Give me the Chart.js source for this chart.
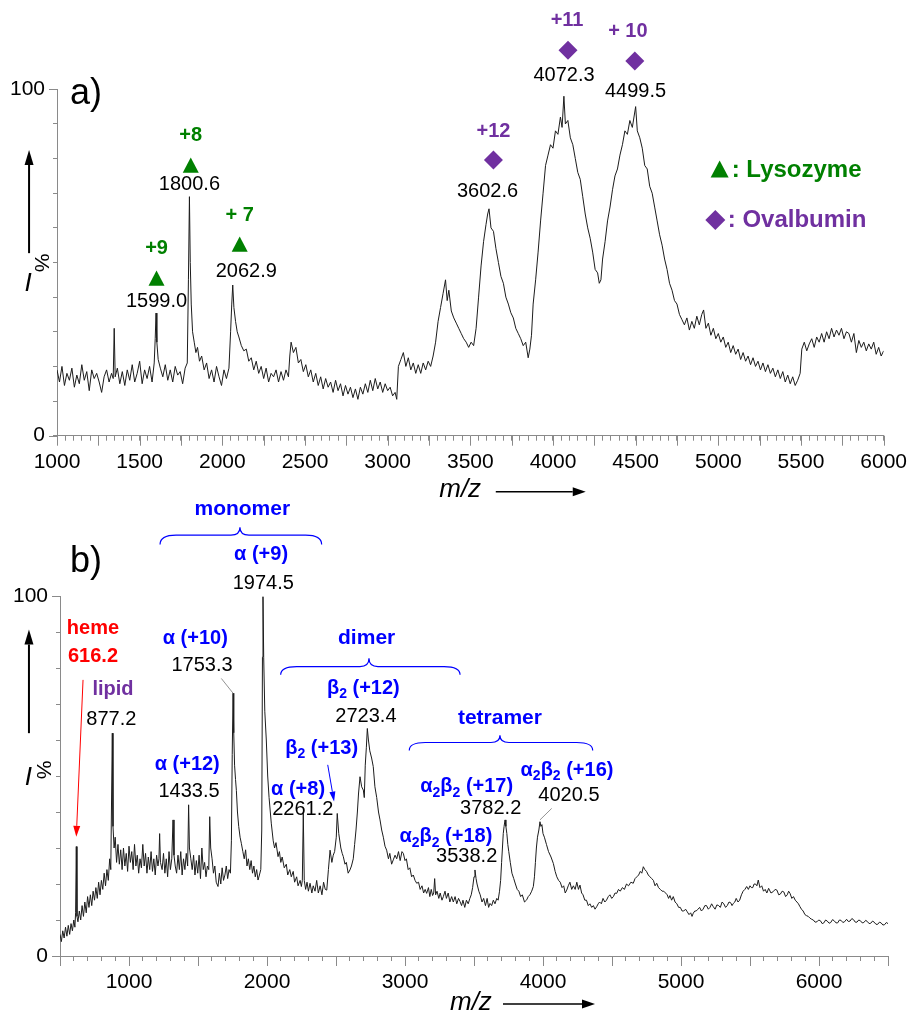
<!DOCTYPE html>
<html>
<head>
<meta charset="utf-8">
<script src="https://cdn.jsdelivr.net/npm/chart.js@4.4.1/dist/chart.umd.min.js"></script>
<style>
  html, body { margin: 0; padding: 0; background: #fff; }
  #wrap { position: relative; width: 916px; height: 1023px; }
  #wrap canvas { position: absolute; left: 0; top: 0; }
</style>
</head>
<body>
<div id="wrap">
  <canvas id="chartA" width="916" height="1023"></canvas>
  <canvas id="chartB" width="916" height="1023"></canvas>
</div>
<script>
// ---- panel a) lysozyme + ovalbumin spectrum ----
const mzA = [
  1000,1015,1030,1045,1060,1075,1090,1105,1120,1135,
  1150,1165,1180,1195,1210,1225,1240,1255,1270,1285,
  1300,1315,1330,1340,1346,1352,1365,1380,1395,1410,
  1425,1440,1455,1470,1485,1500,1515,1530,1545,1560,
  1575,1588,1594,1599,1604,1612,1625,1640,1655,1670,
  1685,1700,1715,1730,1745,1760,1775,1788,1795,1801,
  1806,1812,1820,1830,1840,1850,1862,1875,1890,1905,
  1920,1935,1950,1965,1980,1995,2010,2025,2040,2050,
  2057,2063,2070,2080,2090,2100,2115,2130,2145,2160,
  2175,2190,2205,2220,2235,2250,2265,2280,2295,2310,
  2325,2340,2355,2370,2385,2400,2408,2416,2430,2445,
  2460,2475,2490,2505,2520,2535,2550,2565,2580,2595,
  2610,2625,2640,2655,2670,2685,2700,2715,2730,2745,
  2760,2775,2790,2805,2820,2835,2850,2865,2880,2895,
  2910,2925,2940,2955,2970,2985,3000,3015,3030,3045,
  3055,3065,3080,3095,3110,3125,3140,3155,3170,3185,
  3200,3215,3230,3245,3260,3275,3290,3305,3320,3335,
  3350,3360,3370,3385,3400,3415,3430,3445,3460,3475,
  3490,3505,3520,3535,3550,3565,3580,3595,3605,3613,
  3625,3640,3655,3670,3685,3700,3715,3730,3745,3760,
  3775,3790,3805,3820,3835,3850,3860,3870,3880,3895,
  3910,3925,3940,3955,3970,3985,4000,4015,4030,4045,
  4055,4066,4075,4090,4105,4120,4135,4150,4165,4180,
  4195,4210,4225,4240,4255,4270,4280,4290,4300,4315,
  4330,4345,4360,4375,4390,4405,4420,4435,4450,4465,
  4480,4490,4500,4510,4525,4540,4555,4570,4585,4600,
  4615,4630,4645,4660,4675,4690,4705,4720,4735,4750,
  4765,4780,4795,4810,4825,4840,4855,4870,4885,4900,
  4911,4925,4940,4955,4970,4985,5000,5015,5030,5045,
  5060,5075,5090,5105,5120,5135,5150,5165,5180,5195,
  5210,5225,5240,5255,5270,5285,5300,5315,5330,5345,
  5360,5375,5390,5405,5420,5435,5450,5465,5480,5495,
  5505,5520,5535,5550,5565,5580,5595,5610,5625,5640,
  5655,5670,5685,5700,5715,5730,5745,5760,5775,5790,
  5805,5820,5835,5850,5865,5880,5895,5910,5925,5940,
  5955,5970,5985,6000
];
const intensityA = [
  19,15.5,20,14.5,18,16,19.5,14,17.5,15,
  20.5,16,18.5,13,19,16.5,18,15.5,12.5,17,
  19,15.5,18,16.5,31,17,19.5,15,18.5,14.5,
  19,16,20.5,15.5,18,21.5,15,19,16.5,20,
  15.5,21,28,35.4,27,22,19.5,17,20.5,16,
  19,15.5,20,17.5,18.5,15,19.5,21,45,69,
  50,38,30,27,24,25.5,21.5,23,19,21,
  16.5,19,15.5,20,17,14.5,19,16.5,19.5,30,
  38,43.5,37,33,30,28.5,26,24.5,25,21.5,
  22.5,19,21.5,18,20,16.5,19.5,15.5,18,17,
  19,15.5,18.5,16,19,17,23,27,24,25.5,
  21,22,18.5,20.5,17,19,15.5,18,14.5,17,
  13.5,16.5,14,15.5,12.5,16,13,15,11.5,14.5,
  12,14,11,13.5,10.5,14,12,15,12.5,16,
  13,16.5,13.5,15.5,12.5,15,13,14,11.5,12.5,
  10.5,20,22,24,20,22.5,19,21,18,20.5,
  18,21,19,21.5,20,23,27,33,37,41,
  45,39,42,36,34,32.5,31,29.5,28,27,
  25.5,27,26,31,40,49,56,61,64,65.5,
  60,59,54,50,46,44,40,38,35.5,34,
  31,29.5,28,26,27,22.5,25,29,38,45,
  53,62,70,78,81,84,83,88,87,92,
  89,98,90,91,86,84,80,76,74,69,
  64,60,57,53,48,47,44,45,51,56,
  62,66,71,75,77,81,84,88,87,91,
  89,92,95,88,86,83,78,77,72,70,
  66,62,58,55,51,48,44,42,39,38,
  35,33.5,32,34,30.5,33,31,34.5,32,35,
  36.3,31,32.5,29,31,28,29.5,27,28.5,25.5,
  27,24,26,23.5,25,22,24,21.5,23,20.5,
  22.5,20,21.5,19,21,18.5,20.5,18,19.5,17,
  19,16.5,18.5,15.5,17.5,15,17,14.5,16,18,
  25,27,24.5,26.5,28,25.5,28.5,27,29.5,27,
  30,28,31,28.5,30.5,29,31,28,30,29.5,
  27,29.5,24,27.5,25.5,27,24.5,26.5,25,27,
  23.5,25.5,23,24.5
];
const tickLabelsA = [1000, 1500, 2000, 2500, 3000, 3500, 4000, 4500, 5000, 5500, 6000];
const majorTicksA = [1000, 1250, 1500, 1750, 2000, 2250, 2500, 2750, 3000, 3250, 3500, 3750,
  4000, 4250, 4500, 4750, 5000, 5250, 5500, 5750, 6000];

// ---- panel b) hemoglobin spectrum ----
const mzB = [
  500,510,520,530,540,550,560,570,580,590,
  600,608,613,618,623,630,640,650,660,670,
  680,690,700,710,720,730,740,750,760,770,
  780,790,800,810,820,830,840,850,860,868,
  874,879,884,892,900,910,920,930,940,950,
  960,970,980,990,1000,1010,1020,1030,1040,1050,
  1060,1070,1080,1090,1100,1110,1120,1130,1140,1150,
  1160,1170,1180,1190,1200,1210,1217,1222,1228,1240,
  1250,1260,1270,1280,1290,1300,1310,1319,1326,1335,
  1345,1355,1365,1375,1385,1395,1405,1415,1425,1432,
  1438,1448,1458,1468,1478,1488,1498,1508,1518,1528,
  1538,1548,1558,1568,1578,1585,1592,1602,1612,1622,
  1632,1645,1655,1665,1675,1685,1695,1705,1715,1725,
  1735,1742,1748,1754,1759,1765,1772,1778,1786,1795,
  1805,1814,1825,1835,1845,1855,1865,1875,1885,1895,
  1905,1915,1925,1935,1945,1955,1962,1967,1971,1976,
  1984,1995,2005,2015,2031,2045,2055,2065,2080,2090,
  2100,2110,2125,2140,2150,2165,2176,2190,2200,2215,
  2225,2240,2249,2256,2263,2270,2280,2290,2300,2312,
  2325,2335,2348,2360,2372,2385,2398,2410,2422,2433,
  2445,2457,2470,2480,2490,2502,2509,2520,2535,2545,
  2553,2565,2575,2588,2601,2612,2625,2635,2645,2655,
  2663,2674,2686,2698,2705,2712,2720,2727,2735,2745,
  2758,2770,2782,2795,2808,2819,2831,2843,2855,2867,
  2880,2890,2903,2915,2928,2940,2953,2965,2978,2988,
  3000,3010,3023,3035,3048,3060,3073,3085,3098,3110,
  3123,3135,3146,3157,3170,3180,3190,3200,3208,3215,
  3222,3232,3245,3255,3268,3278,3290,3300,3313,3325,
  3338,3350,3363,3375,3388,3399,3410,3420,3433,3445,
  3458,3470,3480,3490,3500,3507,3515,3522,3535,3545,
  3558,3570,3583,3595,3606,3616,3628,3640,3652,3665,
  3675,3685,3693,3700,3706,3712,3718,3725,3731,3738,
  3745,3752,3763,3775,3788,3800,3813,3825,3838,3850,
  3866,3882,3893,3905,3918,3930,3938,3945,3952,3960,
  3970,3978,3985,3992,4000,4010,4025,4040,4058,4075,
  4088,4100,4113,4125,4138,4150,4161,4172,4183,4195,
  4208,4220,4233,4245,4257,4268,4280,4290,4303,4315,
  4328,4340,4353,4365,4377,4389,4400,4410,4423,4435,
  4448,4460,4473,4485,4498,4510,4522,4534,4547,4560,
  4575,4590,4605,4620,4637,4654,4667,4680,4693,4705,
  4716,4727,4738,4750,4763,4775,4788,4800,4812,4824,
  4837,4850,4863,4875,4888,4900,4910,4920,4932,4944,
  4957,4970,4983,4995,5008,5020,5033,5045,5058,5070,
  5080,5089,5100,5110,5123,5135,5148,5160,5173,5185,
  5198,5210,5222,5234,5247,5260,5273,5285,5298,5310,
  5323,5335,5348,5360,5370,5379,5390,5400,5413,5425,
  5438,5450,5463,5476,5488,5500,5510,5520,5530,5540,
  5550,5560,5572,5585,5598,5610,5622,5635,5652,5669,
  5682,5695,5708,5720,5733,5745,5758,5770,5780,5790,
  5803,5815,5828,5840,5851,5862,5873,5885,5898,5910,
  5922,5935,5947,5959,5972,5985,5998,6010,6023,6035,
  6048,6060,6073,6085,6098,6110,6123,6135,6148,6160,
  6173,6185,6200,6212,6225,6238,6250,6263,6275,6288,
  6300,6313,6325,6338,6350,6363,6375,6388,6400,6413,
  6425,6438,6450,6463,6475,6488,6500
];
const intensityB = [
  6,4,7,5,8,5.5,8.5,6,9,7,
  10,8,12,30.4,11,9.5,12.5,10,14,11,
  15,12,16.5,13.5,17,14,18,15.5,19,16,
  20.5,17,21,18.5,23,19.5,24,21,27,24,
  45,61.9,36,30,33,26,31,25.5,29.5,24,
  30,25,28.5,23.5,30.5,26,29,24,31,25,
  28,23,27,24.5,31,25,28.5,23,27.5,24,
  29,23.5,27,22.5,28,25,27,34,26,24,
  28.5,23,27,22,29,24,27,37.8,28,25,
  23,28,24,29,22.5,27,24,28.5,25,42,
  30,27,24,28,22.5,26.5,23,28,21.5,30,
  24,26,22,25,24,38.7,30,27,23,25,
  20.5,19.3,23,20,24.5,21,22.5,25,21.5,24,
  23,32,56,73,62,53,49,46,40,36,
  33,31.3,29,27,29.5,25,27,24,26.5,23,
  25,22,24,21.1,22.5,24,35,83,99.8,83,
  68,60,50,44,36.9,32,30,31.5,27.6,29,
  26,27.5,24.5,25.5,22.5,24,22,23.5,20.5,22,
  19.5,21,19.3,21,39.6,21,18.5,20.5,18,20.2,
  17.5,19.5,18,21,17.5,19.5,17,20.5,18.5,18.3,
  24,29.4,26,28,29,33,39.6,34,30,28.5,
  27.6,25.5,26,23,23.9,25,27,31,35,40,
  45,49.8,47,46.1,44,53,58,63.2,60,57,
  55,52.6,47,44,40,37.8,35,33,30.5,29.4,
  27,28.5,25.5,26.7,28,27,29,26.5,29,28.5,
  26.5,27,24,24.5,22,22.5,21,20.2,20.5,18.5,
  19.5,17.5,18.5,17.4,19,16.5,18.5,16.8,17.5,21.5,
  17,18,16,17.5,15.5,16.5,18,16,17.5,15,
  16.5,15,16.5,14.5,16,15.1,14,15.5,13.5,15.5,
  14.5,16,17,19,22,23.9,21.5,20,18,17,
  15,16,14,16,13.5,14.6,14,15.5,14.5,16,
  15.5,18,21,26,30,34,36,37.8,36,34,
  31,29,26,23,21.5,20,18.5,18,16.5,17,
  15,15.6,16.5,17,18,19.3,22,26,30,33,
  35,37.3,36,36.5,34,33,31,29,27.5,25.7,
  23.5,22,21,20.5,19,19.5,17.5,18.3,19.5,20.5,
  18.5,19.5,18.5,20.5,18.5,19.7,17.5,17,15.5,15.5,
  14,14.5,13.5,14,13,13.7,14.5,15,14.5,16,
  15,15.5,16.5,17,16,16.5,17.5,17.4,18.5,18,
  19,18.5,20,19.5,20.5,20.2,21.5,22,22.5,23.5,
  23,24.8,24,23.5,22.5,22,21.5,21,19.5,20.2,
  19,18.5,18,18,17.5,17,16,16.8,15.5,16.5,
  15,14.5,13.5,13.5,12.5,12.5,13,12.3,11.5,12,
  11,11.9,12.5,12.5,13,13.5,12.5,13,14,14,
  13,13.5,14.5,13.7,13,14.2,14,13.5,15,14.5,
  13.5,14,15,14.8,14,14.6,15,16,15,15.5,
  17,18,18.5,19.3,18.5,19.5,19,19,20,20,
  19.5,21.1,19,19.5,18,18.5,17.5,18.8,17.5,17.9,
  18.5,18.3,17,17.2,18,17.8,16.5,17,18,17.4,
  16,16.5,15.5,15,14.5,13.7,13,12.5,11.5,11.2,
  11,10.5,10.2,10,9.4,9.5,10,9.8,9,9.2,
  10,9.7,9.1,9.3,10.1,9.8,9.2,9.2,10,9.9,
  9.3,9.5,10.2,9.6,9.7,10.4,10.1,9.4,9.4,10,
  9.8,9.2,9.3,9.9,9.6,9,9.1,9.7,9.4,8.8,
  8.8,9.4,9.2,8.6,8.7,9.3,9
];
const tickLabelsB = [1000, 2000, 3000, 4000, 5000, 6000];
const majorTicksB = [500, 1000, 1500, 2000, 2500, 3000, 3500, 4000, 4500, 5000, 5500, 6000, 6500];

const yTickLabels = [0, 100];

const FONT = "'Liberation Sans', Arial, Helvetica, sans-serif";
const AXIS_GREY = '#8a8a8a';
const GREEN = '#008000';
const PURPLE = '#7030a0';
const BLUE = '#0000ff';
const RED = '#ff0000';

// annotations, placed in data units (m/z, %)
const notesA = [
  { type: 'text', m: 1078, v: 95.8, text: 'a)', size: 36, align: 'left', baseline: 'alphabetic' },
  { type: 'text', m: 1602, v: 54.1, text: '+9', bold: true, color: GREEN },
  { type: 'tri', m: 1602, v: 45.5, size: 16, color: GREEN },
  { type: 'text', m: 1602, v: 38.7, text: '1599.0' },
  { type: 'text', m: 1809, v: 86.8, text: '+8', bold: true, color: GREEN },
  { type: 'tri', m: 1809, v: 78.1, size: 16, color: GREEN },
  { type: 'text', m: 1801, v: 72.4, text: '1800.6' },
  { type: 'text', m: 2105, v: 63.7, text: '+ 7', bold: true, color: GREEN },
  { type: 'tri', m: 2105, v: 55.3, size: 16, color: GREEN },
  { type: 'text', m: 2145, v: 47.3, text: '2062.9' },
  { type: 'text', m: 3640, v: 87.8, text: '+12', bold: true, color: PURPLE },
  { type: 'diamond', m: 3640, v: 79.6, size: 19, color: PURPLE },
  { type: 'text', m: 3604, v: 70.4, text: '3602.6' },
  { type: 'text', m: 4085, v: 120, text: '+11', bold: true, color: PURPLE },
  { type: 'diamond', m: 4091, v: 111.3, size: 19, color: PURPLE },
  { type: 'text', m: 4067, v: 104.1, text: '4072.3' },
  { type: 'text', m: 4453, v: 116.8, text: '+ 10', bold: true, color: PURPLE },
  { type: 'diamond', m: 4495, v: 108.2, size: 19, color: PURPLE },
  { type: 'text', m: 4499, v: 99.3, text: '4499.5' },
  { type: 'tri', m: 5008, v: 77, size: 18, color: GREEN },
  { type: 'text', m: 5081, v: 76.6, text: ': Lysozyme', bold: true, size: 24, color: GREEN, align: 'left' },
  { type: 'diamond', m: 4982, v: 62.3, size: 20, color: PURPLE },
  { type: 'text', m: 5057, v: 62.3, text: ': Ovalbumin', bold: true, size: 24, color: PURPLE, align: 'left' },
  { type: 'text', m: 3312, v: -15.7, text: 'm/z', italic: true, size: 26, align: 'left' },
  { type: 'arrow', m1: 3654, v1: -16.2, m2: 4198, v2: -16.2, width: 1.5, head: 13, headW: 9 },
  { type: 'arrow', m1: 831, v1: 52.7, m2: 831, v2: 82.5, width: 2, head: 15, headW: 9 },
  { type: 'text', m: 825, v: 44, text: 'I', italic: true, size: 26 },
  { type: 'text', m: 903, v: 49.9, text: '%', size: 21, rotate: Math.PI / 2 }
];

const notesB = [
  { type: 'text', m: 572, v: 106.7, text: 'b)', size: 36, align: 'left', baseline: 'alphabetic' },
  { type: 'text', m: 1821, v: 124.1, text: 'monomer', bold: true, size: 21, color: BLUE },
  { type: 'brace', m1: 1225, m2: 2396, mc: 1804, vLine: 116.9, vEnd: 114.3, vCusp: 119.1, color: BLUE },
  { type: 'text', m: 1957, v: 111.5, text: 'α (+9)', bold: true, color: BLUE },
  { type: 'text', m: 1973, v: 103.5, text: '1974.5' },
  { type: 'text', m: 739, v: 91, text: 'heme', bold: true, color: RED },
  { type: 'text', m: 739, v: 83.1, text: '616.2', bold: true, color: RED },
  { type: 'arrow', m1: 667, v1: 76.7, m2: 618, v2: 33.1, color: RED, width: 1, head: 11, headW: 7 },
  { type: 'text', m: 884, v: 73.9, text: 'lipid', bold: true, color: PURPLE },
  { type: 'text', m: 872, v: 65.6, text: '877.2' },
  { type: 'text', m: 1480, v: 88.3, text: 'α (+10)', bold: true, color: BLUE },
  { type: 'text', m: 1529, v: 80.8, text: '1753.3' },
  { type: 'arrow', m1: 1669, v1: 77.1, m2: 1754, v2: 73, color: '#777', width: 0.8, head: 0 },
  { type: 'text', m: 1422, v: 53.1, text: 'α (+12)', bold: true, color: BLUE },
  { type: 'text', m: 1435, v: 45.6, text: '1433.5' },
  { type: 'text', m: 2722, v: 88.3, text: 'dimer', bold: true, size: 21, color: BLUE },
  { type: 'brace', m1: 2099, m2: 3399, mc: 2739, vLine: 80.4, vEnd: 78.1, vCusp: 82.7, color: BLUE },
  { type: 'text', m: 2698, v: 74.4, text: 'β_2 (+12)', bold: true, color: BLUE },
  { type: 'text', m: 2717, v: 66.5, text: '2723.4' },
  { type: 'text', m: 2396, v: 57.7, text: 'β_2 (+13)', bold: true, color: BLUE },
  { type: 'arrow', m1: 2440, v1: 53.1, m2: 2486, v2: 42.9, color: BLUE, width: 1, head: 10, headW: 6 },
  { type: 'text', m: 2225, v: 46.3, text: 'α (+8)', bold: true, color: BLUE },
  { type: 'text', m: 2259, v: 40.6, text: '2261.2' },
  { type: 'text', m: 3688, v: 66.1, text: 'tetramer', bold: true, size: 21, color: BLUE },
  { type: 'brace', m1: 3031, m2: 4360, mc: 3688, vLine: 59.3, vEnd: 57.1, vCusp: 61.3, color: BLUE },
  { type: 'text', m: 3447, v: 47, text: 'α_2β_2 (+17)', bold: true, color: BLUE },
  { type: 'text', m: 3621, v: 41, text: '3782.2' },
  { type: 'text', m: 4174, v: 51.5, text: 'α_2β_2 (+16)', bold: true, color: BLUE },
  { type: 'text', m: 4188, v: 44.7, text: '4020.5' },
  { type: 'arrow', m1: 4063, v1: 41, m2: 3978, v2: 37.8, color: '#777', width: 0.8, head: 0 },
  { type: 'text', m: 3296, v: 33.1, text: 'α_2β_2 (+18)', bold: true, color: BLUE },
  { type: 'text', m: 3447, v: 27.6, text: '3538.2' },
  { type: 'text', m: 3326, v: -13.1, text: 'm/z', italic: true, size: 26, align: 'left' },
  { type: 'arrow', m1: 3710, v1: -13.3, m2: 4377, v2: -13.3, width: 1.5, head: 13, headW: 9 },
  { type: 'arrow', m1: 275, v1: 61.9, m2: 275, v2: 90.7, width: 2, head: 15, headW: 9 },
  { type: 'text', m: 270, v: 49.4, text: 'I', italic: true, size: 26 },
  { type: 'text', m: 373, v: 51.7, text: '%', size: 21, rotate: Math.PI / 2 }
];

function drawArrow(ctx, x1, y1, x2, y2, color, width, headLen, headW) {
  const ang = Math.atan2(y2 - y1, x2 - x1);
  const bx = x2 - Math.cos(ang) * headLen;
  const by = y2 - Math.sin(ang) * headLen;
  ctx.strokeStyle = color;
  ctx.lineWidth = width;
  ctx.beginPath();
  ctx.moveTo(x1, y1);
  ctx.lineTo(headLen ? bx : x2, headLen ? by : y2);
  ctx.stroke();
  if (!headLen) return;
  ctx.fillStyle = color;
  ctx.beginPath();
  ctx.moveTo(x2, y2);
  ctx.lineTo(bx + Math.sin(ang) * headW / 2, by - Math.cos(ang) * headW / 2);
  ctx.lineTo(bx - Math.sin(ang) * headW / 2, by + Math.cos(ang) * headW / 2);
  ctx.closePath();
  ctx.fill();
}

// text with "_x" meaning subscript x
function drawRichText(ctx, it, x, y) {
  const size = it.size || 20;
  const style = (it.italic ? 'italic ' : '') + (it.bold ? 'bold ' : '');
  const parts = [];
  const s = it.text;
  for (let i = 0; i < s.length; i++) {
    if (s[i] === '_') {
      parts.push({ t: s[i + 1], sub: true });
      i++;
    } else if (parts.length && !parts[parts.length - 1].sub) {
      parts[parts.length - 1].t += s[i];
    } else {
      parts.push({ t: s[i], sub: false });
    }
  }
  const fontFor = p => style + Math.round(p.sub ? size * 0.68 : size) + 'px ' + FONT;
  let total = 0;
  parts.forEach(p => {
    ctx.font = fontFor(p);
    p.w = ctx.measureText(p.t).width;
    total += p.w;
  });
  let cx = it.align === 'left' ? x : x - total / 2;
  ctx.fillStyle = it.color || '#000';
  ctx.textAlign = 'left';
  ctx.textBaseline = it.baseline || 'middle';
  parts.forEach(p => {
    ctx.font = fontFor(p);
    ctx.fillText(p.t, cx, p.sub ? y + size * 0.3 : y);
    cx += p.w;
  });
}

const notesPlugin = {
  id: 'notes',
  afterDraw(chart, args, opts) {
    const ctx = chart.ctx;
    const xs = chart.scales.x;
    const ys = chart.scales.y;
    const px = m => xs.getPixelForValue(m);
    const py = v => ys.getPixelForValue(v);
    const area = chart.chartArea;
    ctx.save();

    // longer marks for the major ticks
    ctx.strokeStyle = AXIS_GREY;
    ctx.lineWidth = 1;
    ctx.beginPath();
    opts.xMajors.forEach(val => {
      const x = Math.round(px(val)) + 0.5;
      ctx.moveTo(x, area.bottom);
      ctx.lineTo(x, area.bottom + 10);
    });
    yTickLabels.forEach(val => {
      const y = Math.round(py(val)) + 0.5;
      ctx.moveTo(area.left - 8, y);
      ctx.lineTo(area.left, y);
    });
    ctx.stroke();

    opts.items.forEach(it => {
      if (it.type === 'text') {
        if (it.rotate) {
          ctx.save();
          ctx.translate(px(it.m), py(it.v));
          ctx.rotate(it.rotate);
          drawRichText(ctx, it, 0, 0);
          ctx.restore();
        } else {
          drawRichText(ctx, it, px(it.m), py(it.v));
        }
      } else if (it.type === 'tri') {
        const x = px(it.m), y = py(it.v), w = it.size, h = it.size * 0.95;
        ctx.fillStyle = it.color;
        ctx.beginPath();
        ctx.moveTo(x, y - h / 2);
        ctx.lineTo(x + w / 2, y + h / 2);
        ctx.lineTo(x - w / 2, y + h / 2);
        ctx.closePath();
        ctx.fill();
      } else if (it.type === 'diamond') {
        const x = px(it.m), y = py(it.v), r = it.size / 2;
        ctx.fillStyle = it.color;
        ctx.beginPath();
        ctx.moveTo(x, y - r);
        ctx.lineTo(x + r, y);
        ctx.lineTo(x, y + r);
        ctx.lineTo(x - r, y);
        ctx.closePath();
        ctx.fill();
      } else if (it.type === 'arrow') {
        drawArrow(ctx, px(it.m1), py(it.v1), px(it.m2), py(it.v2),
          it.color || '#000', it.width || 1, it.head || 0, it.headW || 0);
      } else if (it.type === 'brace') {
        const x1 = px(it.m1), x2 = px(it.m2), xc = px(it.mc);
        const yl = py(it.vLine), ye = py(it.vEnd), yc = py(it.vCusp);
        const r = 16, rc = 9;
        ctx.strokeStyle = it.color;
        ctx.lineWidth = 1.2;
        ctx.beginPath();
        ctx.moveTo(x1, ye);
        ctx.quadraticCurveTo(x1, yl, x1 + r, yl);
        ctx.lineTo(xc - rc, yl);
        ctx.quadraticCurveTo(xc, yl, xc, yc);
        ctx.quadraticCurveTo(xc, yl, xc + rc, yl);
        ctx.lineTo(x2 - r, yl);
        ctx.quadraticCurveTo(x2, yl, x2, ye);
        ctx.stroke();
      }
    });
    ctx.restore();
  }
};

function spectrumChart(canvasId, mz, intensity, axis, notes) {
  const points = mz.map((m, i) => ({ x: m, y: intensity[i] }));
  return new Chart(document.getElementById(canvasId), {
    type: 'line',
    data: {
      datasets: [{
        data: points,
        borderColor: '#1c1c1c',
        borderWidth: 1,
        pointRadius: 0,
        tension: 0,
        fill: false
      }]
    },
    options: {
      responsive: false,
      animation: false,
      devicePixelRatio: 1,
      events: [],
      layout: { padding: axis.padding },
      plugins: {
        legend: { display: false },
        tooltip: { enabled: false },
        notes: { items: notes, xMajors: axis.majors }
      },
      scales: {
        x: {
          type: 'linear',
          min: axis.min,
          max: axis.max,
          afterFit: s => { s.height = 40; },
          border: { color: AXIS_GREY, width: 1 },
          grid: { drawOnChartArea: false, tickLength: 5, color: AXIS_GREY },
          ticks: {
            stepSize: axis.step,
            autoSkip: false,
            maxRotation: 0,
            padding: 9,
            color: '#000',
            font: { family: FONT, size: 21 },
            callback: v => axis.labels.includes(v) ? String(v) : ''
          }
        },
        y: {
          min: 0,
          max: 100,
          afterFit: s => { s.width = axis.yWidth; },
          border: { color: AXIS_GREY, width: 1 },
          grid: { drawOnChartArea: false, tickLength: 4, color: AXIS_GREY },
          ticks: {
            stepSize: 10,
            autoSkip: false,
            padding: 8,
            color: '#000',
            font: { family: FONT, size: 21 },
            callback: v => yTickLabels.includes(v) ? String(v) : ''
          }
        }
      }
    },
    plugins: [notesPlugin]
  });
}

spectrumChart('chartA', mzA, intensityA, {
  min: 1000, max: 6000, step: 50, labels: tickLabelsA, majors: majorTicksA, yWidth: 57,
  padding: { left: 0, right: 30.7, top: 89.3, bottom: 547.3 }
}, notesA);

spectrumChart('chartB', mzB, intensityB, {
  min: 500, max: 6500, step: 100, labels: tickLabelsB, majors: majorTicksB, yWidth: 60,
  padding: { left: 0, right: 28, top: 596, bottom: 27 }
}, notesB);
</script>
</body>
</html>
